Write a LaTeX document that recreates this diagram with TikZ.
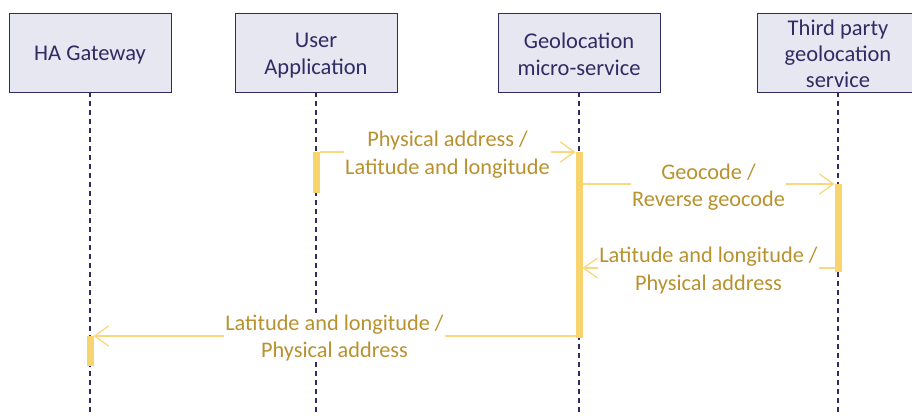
\documentclass[tikz,border=0pt]{standalone}
\usepackage{fontspec}
\setmainfont{Carlito}
\usetikzlibrary{arrows.meta}
\definecolor{boxfill}{HTML}{E7E7F1}
\definecolor{navy}{HTML}{2E2C63}
\definecolor{barcol}{HTML}{F7D46E}
\definecolor{msgcol}{HTML}{F9D77C}
\definecolor{gold}{HTML}{B8922F}
\begin{document}
\begin{tikzpicture}[x=1pt,y=-1pt,
  actor/.style={draw=navy,fill=boxfill,line width=0.9pt,minimum width=162pt,minimum height=79pt,inner sep=0pt},
  actortext/.style={text=navy,font=\fontsize{22.5}{27}\selectfont,align=center,inner sep=0pt},
  lifeline/.style={draw=navy,line width=1.1pt,dash pattern=on 5pt off 4pt},
  actbar/.style={fill=barcol,draw=none,minimum width=7pt,inner sep=0pt,anchor=north},
  msg/.style={draw=msgcol,line width=1.3pt,-{Straight Barb[length=14pt,width=20pt,line width=1.3pt]}},
  lbl/.style={fill=white,text=gold,font=\fontsize{22.3}{27.5}\selectfont,align=center,inner sep=1pt}]
\useasboundingbox (0,0) rectangle (912,415);
% actors
\node[actor] (ha) at (90,52.5) {};
\node[actor] (ua) at (316,52.5) {};
\node[actor] (geo) at (579,52.5) {};
\node[actor] (tp) at (838,52.5) {};
\node[actortext] (hat) at ([yshift=-3pt]ha.center) {HA Gateway};
\node[actortext] (uat) at ([yshift=-3pt]ua.center) {User\\Application};
\node[actortext] (geot) at ([yshift=-2pt]geo.center) {Geolocation\\micro-service};
\node[actortext,font=\fontsize{22.5}{26}\selectfont] (tpt) at ([yshift=-1pt]tp.center) {Third party\\geolocation\\service};
% lifelines
\coordinate (haE) at (90,415);
\coordinate (uaE) at (316,415);
\coordinate (geoE) at (579,415);
\coordinate (tpE) at (838,415);
\draw[lifeline] (ha.south) -- (haE);
\draw[lifeline] (ua.south) -- (uaE);
\draw[lifeline] (geo.south) -- (geoE);
\draw[lifeline] (tp.south) -- (tpE);
% activation bars
\node[actbar,minimum height=41pt] (bua) at (316,152) {};
\node[actbar,minimum height=186pt] (bgeo) at (579,152) {};
\node[actbar,minimum height=88pt] (btp) at (838,184) {};
\node[actbar,minimum height=30pt] (bha) at (90,336) {};
% messages
\coordinate (m1s) at (319.5,152);
\coordinate (m1e) at (575.5,152);
\draw[msg] (m1s) -- node[lbl,yshift=-2.5pt] {Physical address /\\Latitude and longitude} (m1e);
\coordinate (m2s) at (582.5,184);
\coordinate (m2e) at (834.5,184);
\draw[msg] (m2s) -- node[lbl,yshift=-3pt] {Geocode /\\Reverse geocode} (m2e);
\coordinate (m3s) at (834.5,268);
\coordinate (m3e) at (582.5,268);
\draw[msg] (m3s) -- node[lbl,yshift=-2.5pt] {Latitude and longitude /\\Physical address} (m3e);
\coordinate (m4s) at (575.5,336);
\coordinate (m4e) at (93.5,336);
\draw[msg] (m4s) -- node[lbl,yshift=-2pt] {Latitude and longitude /\\Physical address} (m4e);
\end{tikzpicture}
\end{document}
